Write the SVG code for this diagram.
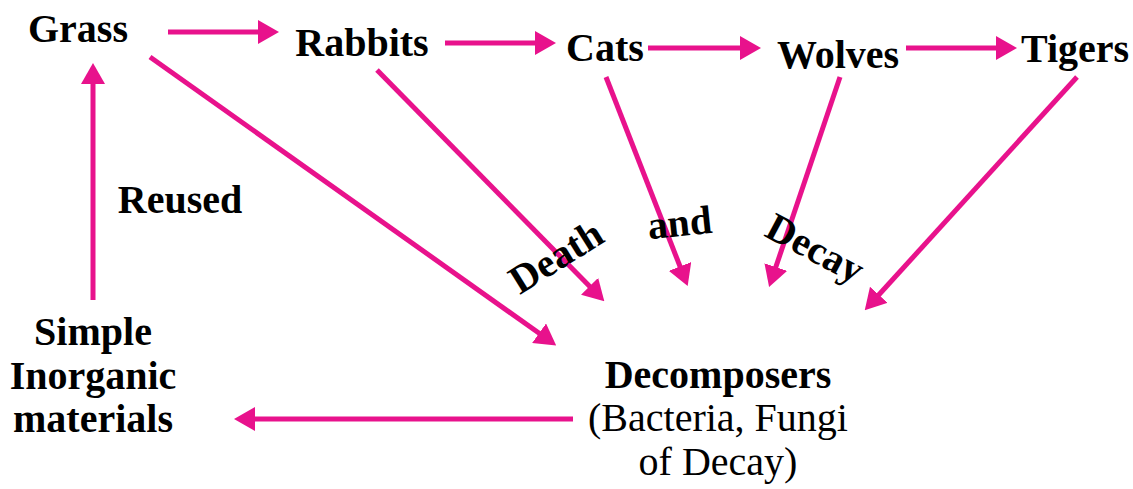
<svg xmlns="http://www.w3.org/2000/svg" width="1133" height="489" viewBox="0 0 1133 489">
<style>
.t{font-family:"Liberation Serif","Times New Roman",serif;font-size:40px;fill:#000;text-anchor:middle}
.b{font-weight:bold}
.c line{stroke:#E8128C;stroke-width:5;fill:none;marker-end:url(#ah)}
</style>
<defs>
<marker id="ah" viewBox="0 0 21 24" refX="1" refY="12" markerWidth="21" markerHeight="24" markerUnits="userSpaceOnUse" orient="auto">
<path d="M0,0 L21,12 L0,24 z" fill="#E8128C"/>
</marker>
</defs>
<rect width="1133" height="489" fill="#fff"/>
<g class="c" id="connectors">
<line x1="168" y1="32" x2="259" y2="32"/>
<line x1="445" y1="43" x2="536" y2="43"/>
<line x1="648" y1="48" x2="741" y2="48"/>
<line x1="906" y1="48" x2="997" y2="48"/>
<line x1="93" y1="300" x2="93" y2="83"/>
<line x1="150" y1="57" x2="539.9" y2="333.8"/>
<line x1="377" y1="70" x2="590.3" y2="287"/>
<line x1="606" y1="77" x2="680.4" y2="267.4"/>
<line x1="840" y1="77" x2="775.5" y2="268"/>
<line x1="1077" y1="77" x2="878.2" y2="295.5"/>
<line x1="573" y1="419" x2="254" y2="419"/>
</g>
<g id="grass"><text class="t b" x="78" y="42">Grass</text></g>
<g id="rabbits"><text class="t b" x="362" y="56">Rabbits</text></g>
<g id="cats"><text class="t b" x="605" y="61">Cats</text></g>
<g id="wolves"><text class="t b" x="838" y="68">Wolves</text></g>
<g id="tigers"><text class="t b" x="1075" y="62">Tigers</text></g>
<g id="reused"><text class="t b" x="180" y="213">Reused</text></g>
<g id="inorganic">
<text class="t b" x="93" y="345">Simple</text>
<text class="t b" x="93" y="389">Inorganic</text>
<text class="t b" x="93" y="432">materials</text>
</g>
<g id="decomposers">
<text class="t b" x="718" y="388">Decomposers</text>
<text class="t" x="718" y="431">(Bacteria, Fungi</text>
<text class="t" x="718" y="475">of Decay)</text>
</g>
<g id="death-and-decay">
<text class="t b" transform="translate(563,268) rotate(-32)">Death</text>
<text class="t b" transform="translate(681,236) rotate(-6)">and</text>
<text class="t b" transform="translate(809,260) rotate(28)">Decay</text>
</g>
</svg>
